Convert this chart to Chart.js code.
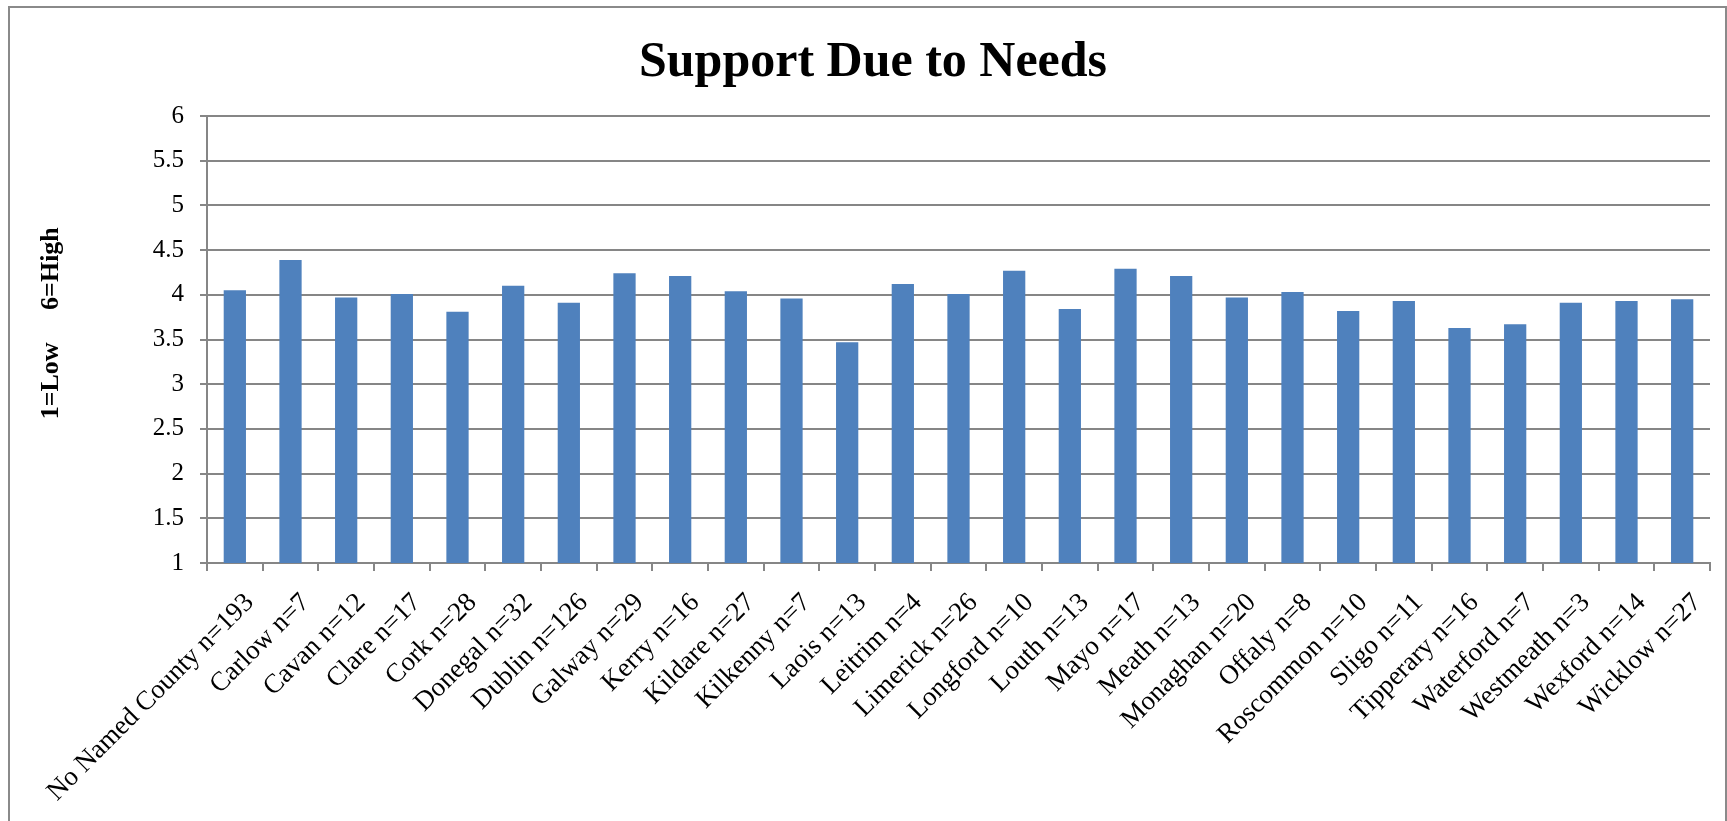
<!DOCTYPE html>
<html>
<head>
<meta charset="utf-8">
<title>Support Due to Needs</title>
<script src="https://cdn.jsdelivr.net/npm/chart.js@4.4.1/dist/chart.umd.min.js"></script>
<style>
  html, body { margin: 0; padding: 0; background: #fff; overflow: hidden; }
  #wrap { position: relative; width: 1727px; height: 821px; }
  #frame {
    position: absolute; left: 8px; top: 6px; width: 1715px; height: 830px;
    border: 2px solid #8a8a8a; border-bottom: none;
  }
  #myCanvas { position: absolute; left: 0; top: 0; }
</style>
</head>
<body>
<div id="wrap">
  <div id="frame"></div>
  <canvas id="myCanvas" width="1727" height="821"></canvas>
</div>
<script>
// counties (with respondent counts) and mean score
var counties = ["No Named County n=193", "Carlow n=7", "Cavan n=12", "Clare n=17", "Cork n=28",
    "Donegal n=32", "Dublin n=126", "Galway n=29", "Kerry n=16", "Kildare n=27", "Kilkenny n=7",
    "Laois n=13", "Leitrim n=4", "Limerick n=26", "Longford n=10", "Louth n=13", "Mayo n=17",
    "Meath n=13", "Monaghan n=20", "Offaly n=8", "Roscommon n=10", "Sligo n=11", "Tipperary n=16",
    "Waterford n=7", "Westmeath n=3", "Wexford n=14", "Wicklow n=27"];
var support_vals = [4.05, 4.39, 3.97, 4.01, 3.81, 4.10, 3.91, 4.24, 4.21, 4.04, 3.96,
    3.47, 4.12, 4.01, 4.27, 3.84, 4.29, 4.21, 3.97, 4.03, 3.82, 3.93, 3.63,
    3.67, 3.91, 3.93, 3.95];
var y_min = 1;
var y_max = 6;
var y_step = 0.5;

var serif = "'Liberation Serif', 'DejaVu Serif', serif";
var gridGrey = '#868686';
var sp = '\u00a0';

var myChart = new Chart(document.getElementById("myCanvas"), {
    type: 'bar',
    data: {
        labels: counties,
        datasets: [{
            label: "Support Due to Needs",
            data: support_vals,
            backgroundColor: '#4F81BD',
            borderWidth: 0,
            barPercentage: 0.4,
            categoryPercentage: 1.0
        }]
    },
    options: {
        responsive: false,
        animation: false,
        layout: {
            padding: { left: 36, right: 17, top: 0, bottom: 0 }
        },
        plugins: {
            legend: { display: false },
            tooltip: { enabled: false },
            title: {
                display: true,
                text: 'Support Due to Needs',
                color: '#000',
                font: { family: serif, size: 50, weight: 'bold' },
                padding: { top: 33, bottom: 23 }
            }
        },
        scales: {
            x: {
                offset: true,
                border: { display: true, color: gridGrey, width: 2 },
                grid: {
                    display: true,
                    offset: true,
                    drawOnChartArea: false,
                    drawTicks: true,
                    tickLength: 8,
                    color: gridGrey,
                    lineWidth: 2
                },
                ticks: {
                    autoSkip: false,
                    minRotation: 45,
                    maxRotation: 45,
                    labelOffset: 15,
                    padding: 16,
                    color: '#000',
                    font: { family: serif, size: 27 }
                },
                afterFit: function (scale) { scale.height = 258; }
            },
            y: {
                min: y_min,
                max: y_max,
                border: { display: true, color: gridGrey, width: 2 },
                grid: {
                    color: gridGrey,
                    lineWidth: 2,
                    drawTicks: true,
                    tickLength: 7
                },
                ticks: {
                    stepSize: y_step,
                    padding: 16,
                    color: '#000',
                    font: { family: serif, size: 25 },
                    callback: function (v) { return v; }
                },
                title: {
                    display: true,
                    text: sp.repeat(5) + '1=Low' + sp.repeat(5) + '6=High',
                    color: '#000',
                    font: { family: serif, size: 26, weight: 'bold' },
                    padding: { top: 0, bottom: 0 }
                },
                afterFit: function (scale) { scale.width = 171; }
            }
        }
    }
});
</script>
</body>
</html>
